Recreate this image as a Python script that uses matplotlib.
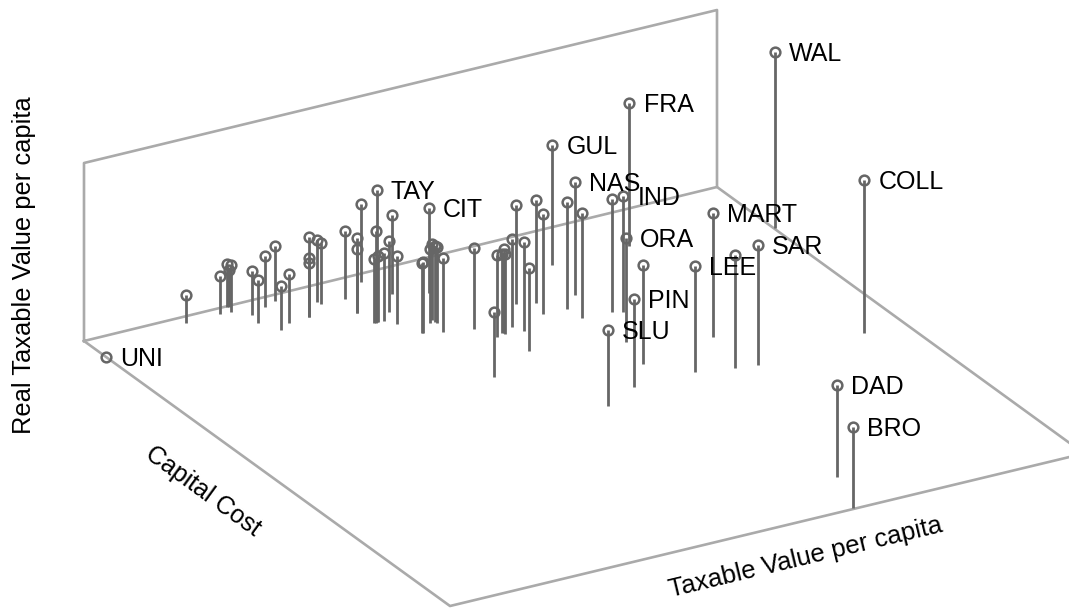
import matplotlib
matplotlib.use('Agg')
import matplotlib.pyplot as plt

plt.rcParams['font.family'] = ['Liberation Sans', 'DejaVu Sans']

# Points: screen x, top of the stem, foot of the stem.
xs = [186.3, 220.3, 227.3, 230.7, 228.7, 252.3, 258, 265.3, 275.3, 280.7, 288.7,
      309, 309, 309, 317, 321, 344.7, 357, 357, 361.3, 376.7, 375.7, 374, 378.3,
      383.7, 392, 389, 397, 429, 422.3, 423.3, 431.7, 430, 436.7, 435, 443,
      474.3, 494, 497.3, 502.3, 504.3, 505, 512.3, 515.7, 523.7, 529.3, 535.7,
      542.7, 552.3, 567.3, 575, 582.3, 607.7, 611.7, 623.3, 629, 625.7, 634.3,
      642.7, 695, 713.3, 734.7, 757.7, 775, 864.3, 837.3, 852.7, 106]
tops = [294.7, 276, 264.3, 265, 270, 270.7, 280.3, 256.3, 246.3, 286.3, 274.3,
        237, 258.3, 263.3, 239.7, 242.7, 231, 238, 249, 203.7, 190, 231.3, 258.7, 255.7,
        253.3, 215, 240.7, 256.3, 208.3, 263.3, 262.3, 244, 249, 247.3, 246, 258,
        248.3, 312, 254.7, 254, 249, 254, 239, 205.3, 242, 268, 200.3,
        214, 145, 202.3, 181.7, 213, 330.3, 198.7, 195.7, 103, 237.7, 299,
        265.3, 266.3, 213.3, 254.7, 245, 52, 179.7, 385, 427, 357]
feet = [323, 314, 307, 312, 307, 315, 322.7, 306.7, 300.7, 330, 322.7,
        302, 316.7, 316.7, 301.7, 304.3, 299.3, 313, 313, 281.7, 322, 322.7, 322.7, 321.7,
        320.7, 294, 311.7, 324, 293.3, 333.3, 333, 320, 323.3, 322.7, 322, 331.7,
        329.3, 377.3, 336.7, 333.3, 333, 334, 327.3, 304, 331, 350.7, 302.7,
        314, 265, 308.7, 295, 318.3, 406, 312, 311.7, 246, 341.7, 387.3,
        364, 371.7, 336.7, 368.3, 365, 228, 332.7, 476.7, 508.3, 357]

names = ['UNI', 'TAY', 'CIT', 'GUL', 'NAS', 'IND', 'FRA', 'ORA', 'PIN', 'SLU',
         'LEE', 'MART', 'SAR', 'WAL', 'COLL', 'DAD', 'BRO']
name_x = [106, 376.7, 429, 552.3, 575, 623.3, 629.5, 625.7, 634.3, 607.7,
          695, 713.3, 757.7, 775, 864.3, 837.3, 852.7]
name_y = [357, 190, 208.3, 145, 181.7, 195.7, 103, 237.7, 299, 330.3,
          266.3, 213.3, 245, 52, 179.7, 385, 427]

# Box edges: back wall and floor.
wall_x = [84, 84, 717, 717, 84]
wall_y = [341, 163, 10, 187, 341]
floor_x = [84, 450, 1084, 717]
floor_y = [341, 606, 453.5, 187]

fig = plt.figure(figsize=(10.69, 6.09), dpi=100)
ax = fig.add_axes([0, 0, 1, 1])
ax.set_xlim(0, 1069)
ax.set_ylim(609, 0)
ax.axis('off')

ax.plot(wall_x, wall_y, color='#aaaaaa', lw=1.9, zorder=1)
ax.plot(floor_x, floor_y, color='#aaaaaa', lw=1.9, zorder=1)

ax.vlines(xs, tops, feet, color='#666666', lw=2, zorder=2)
ax.plot(xs, tops, ls='none', marker='o', ms=7, mfc='none', mec='#666666', mew=1.8, zorder=3)

for n, x, y in zip(names, name_x, name_y):
    ax.text(x + 14, y + 2, n, fontsize=18, ha='left', va='center', color='black', zorder=4)

ax.text(24.5, 265.5, 'Real Taxable Value per capita', fontsize=18.4, rotation=90, ha='center', va='center')
ax.text(203, 491, 'Capital Cost', fontsize=18, rotation=-36, ha='center', va='center', rotation_mode='anchor')
ax.text(806, 558, 'Taxable Value per capita', fontsize=18.5, rotation=13.5, ha='center', va='center', rotation_mode='anchor')

fig.savefig('out.png', dpi=100)
